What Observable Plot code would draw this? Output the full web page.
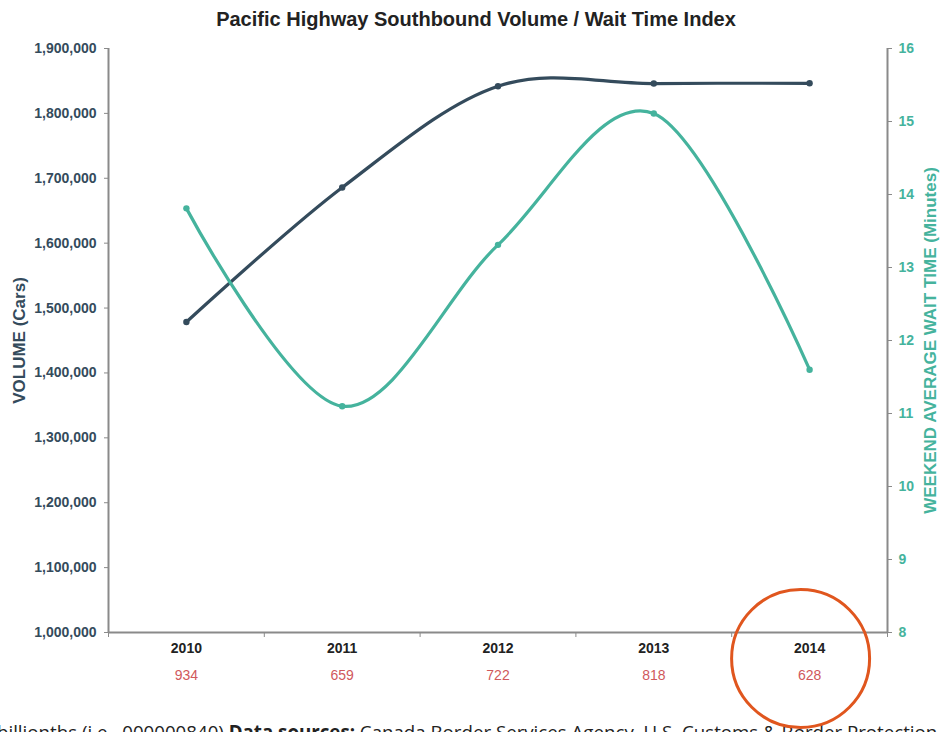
<!DOCTYPE html>
<html>
<head>
<meta charset="utf-8">
<script src="https://cdn.jsdelivr.net/npm/d3@7"></script>
<script src="https://cdn.jsdelivr.net/npm/@observablehq/plot@0.6"></script>
<style>
  html, body { margin: 0; padding: 0; background: #fff; overflow: hidden; width: 940px; height: 732px; }
  #wrap { position: relative; width: 940px; height: 732px; }
  #title { position: absolute; left: 0; top: 0; width: 952px; height: 36px; text-align: center;
    font: bold 20px "Liberation Sans", Arial, sans-serif; color: #222; line-height: 38px; }
  #chart { position: absolute; left: 0; top: 36px; z-index: 2; }
  #caption { position: absolute; left: -3px; top: 720px; white-space: nowrap; z-index: 1;
    font: 18.7px "Open Sans", sans-serif; color: #222; line-height: 24px; }
</style>
</head>
<body>
<div id="wrap">
  <div id="title">Pacific Highway Southbound Volume / Wait Time Index</div>
  <div id="chart"></div>
  <div id="caption">billionths (i.e. .000000840) <b>Data sources:</b> Canada Border Services Agency, U.S. Customs &amp; Border Protection</div>
</div>
<script>
// ---- data ----
const years = [2010, 2011, 2012, 2013, 2014];
const volume = [1478500, 1685800, 1841900, 1846000, 1846400];
const waitTime = [13.81, 11.10, 13.31, 15.11, 11.60];
const waitCount = [934, 659, 722, 818, 628];
const volumeTicks = [1000000, 1100000, 1200000, 1300000, 1400000, 1500000, 1600000, 1700000, 1800000, 1900000];
const waitTicks = [8, 9, 10, 11, 12, 13, 14, 15, 16];
const bandEdges = [2009.5, 2010.5, 2011.5, 2012.5, 2013.5, 2014.5];
const highlightYear = [2014];

// ---- colours ----
const cVol = "#344b5c";
const cWait = "#45b39d";
const cAxis = "#8a8a8a";
const cCount = "#d0585c";

// map wait time (8..16) onto the volume scale (1.0M..1.9M)
const vMin = 1000000, vMax = 1900000, wMin = 8, wMax = 16;
const toVol = w => vMin + (w - wMin) / (wMax - wMin) * (vMax - vMin);
const fromVol = v => wMin + (v - vMin) / (vMax - vMin) * (wMax - wMin);

const rows = years.map((y, i) => ({year: y, volume: volume[i], wait: waitTime[i], count: waitCount[i]}));

const font = "Liberation Sans, Arial, sans-serif";

const chart = Plot.plot({
  width: 940,
  height: 696,
  marginTop: 12,
  marginBottom: 100,
  marginLeft: 108,
  marginRight: 53,
  style: {background: "transparent", fontFamily: font, overflow: "visible"},
  x: {type: "linear", domain: [2009.5, 2014.5], axis: null},
  y: {type: "linear", domain: [vMin, vMax], axis: null},
  marks: [
    // axis lines
    Plot.ruleX([2009.5], {stroke: cAxis, strokeWidth: 2}),
    Plot.ruleX([2014.5], {stroke: cAxis, strokeWidth: 2}),
    Plot.ruleY([vMin], {stroke: cAxis, strokeWidth: 2}),
    // x tick marks between categories
    Plot.axisX({ticks: bandEdges, tickFormat: () => "", tickSize: 5, stroke: cAxis, label: null}),
    // year labels
    Plot.text(rows, {x: "year", frameAnchor: "bottom", dy: 20, text: d => String(d.year),
      fontWeight: "bold", fontSize: 14, fill: "#222"}),
    // wait counts
    Plot.text(rows, {x: "year", frameAnchor: "bottom", dy: 47, text: d => String(d.count),
      fontSize: 14, fill: cCount}),
    // left axis
    Plot.axisY({ticks: volumeTicks, tickFormat: d3.format(","), tickSize: 4, tickPadding: 8,
      stroke: cAxis, fill: cVol, fontWeight: "bold", fontSize: 14, label: null}),
    // right axis
    Plot.axisY({anchor: "right", ticks: waitTicks.map(toVol), tickFormat: v => String(Math.round(fromVol(v))),
      tickSize: 4, tickPadding: 7, stroke: cAxis, fill: cWait, fontWeight: "bold", fontSize: 14, label: null}),
    // axis titles
    Plot.text(["VOLUME (Cars)"], {frameAnchor: "left", dx: -89, rotate: -90, textAnchor: "middle",
      fontWeight: "bold", fontSize: 17, fill: cVol}),
    Plot.text(["WEEKEND AVERAGE WAIT TIME (Minutes)"], {frameAnchor: "right", dx: 43, rotate: -90,
      textAnchor: "middle", fontWeight: "bold", fontSize: 17, fill: cWait}),
    // series
    Plot.line(rows, {x: "year", y: "volume", curve: "cardinal", stroke: cVol, strokeWidth: 3.2}),
    Plot.dot(rows, {x: "year", y: "volume", r: 3.2, fill: cVol}),
    Plot.line(rows, {x: "year", y: d => toVol(d.wait), curve: "cardinal", stroke: cWait, strokeWidth: 3.2}),
    Plot.dot(rows, {x: "year", y: d => toVol(d.wait), r: 3.2, fill: cWait}),
    // highlight circle
    Plot.dot(highlightYear, {x: d => d, frameAnchor: "bottom", dx: -9, dy: 26, r: 69,
      fill: "none", stroke: "#e0561e", strokeWidth: 3})
  ]
});
document.getElementById("chart").appendChild(chart);
</script>
</body>
</html>
